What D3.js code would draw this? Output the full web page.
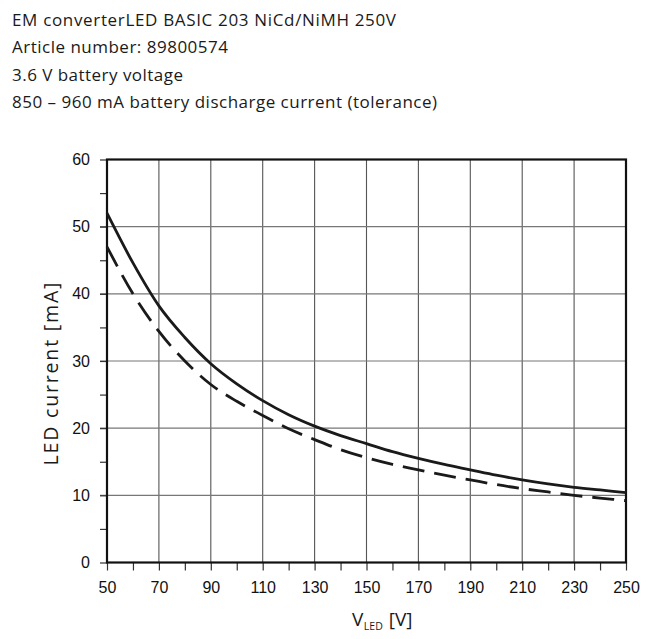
<!DOCTYPE html>
<html>
<head>
<meta charset="utf-8">
<script src="https://cdn.jsdelivr.net/npm/d3@7"></script>
<style>
  body { margin: 0; background: #fff; }
  svg { display: block; }
</style>
</head>
<body>
<svg id="chart" width="649" height="639"></svg>
<script>
// header text lines
var titleLines = [
  "EM converterLED BASIC 203 NiCd/NiMH 250V",
  "Article number: 89800574",
  "3.6 V battery voltage",
  "850 \u2013 960 mA battery discharge current (tolerance)"
];
// width each header line takes in the reference, px
var titleWidths = [384, 216, 171, 425];

// LED voltage [V]
var vLed = [50, 60, 70, 80, 90, 100, 110, 120, 130, 140, 150, 160, 170, 180, 190, 200, 210, 220, 230, 240, 250];
// LED current [mA], upper tolerance (solid)
var currentMax = [52, 44.6, 38.2, 33.5, 29.6, 26.6, 24.1, 22.0, 20.3, 18.9, 17.7, 16.5, 15.5, 14.6, 13.8, 13.0, 12.3, 11.7, 11.2, 10.8, 10.4];
// LED current [mA], lower tolerance (dashed)
var currentMin = [47, 40.0, 34.4, 30.0, 26.5, 24.0, 21.9, 19.9, 18.3, 16.8, 15.6, 14.6, 13.8, 13.0, 12.3, 11.6, 11.0, 10.5, 10.0, 9.6, 9.2];

var xTicks = [50, 70, 90, 110, 130, 150, 170, 190, 210, 230, 250];
var yTicks = [0, 10, 20, 30, 40, 50, 60];

var svg = d3.select("#chart");
var labelFont = "'Open Sans', sans-serif";
var tickFont = "'Liberation Sans', Arial, sans-serif";

// header
svg.append("g").selectAll("text")
  .data(titleLines)
  .enter().append("text")
  .attr("x", 12)
  .attr("y", function(d, i) { return 26 + i * 27.3; })
  .attr("textLength", function(d, i) { return titleWidths[i]; })
  .attr("lengthAdjust", "spacing")
  .style("font-family", labelFont)
  .style("font-size", "17px")
  .style("fill", "#1a1a1a")
  .text(function(d) { return d; });

// plot box (window.top is reserved, so use own names)
var pLeft = 107, pRight = 626, pTop = 159.5, pBottom = 562.5;

var x = d3.scaleLinear().domain([50, 250]).range([pLeft, pRight]);
var y = d3.scaleLinear().domain([0, 60]).range([pBottom, pTop]);

var g = svg.append("g");

// grid
g.append("g").selectAll("line")
  .data(xTicks.slice(1, -1))
  .enter().append("line")
  .attr("x1", function(d) { return x(d); })
  .attr("x2", function(d) { return x(d); })
  .attr("y1", pTop).attr("y2", pBottom)
  .style("stroke", "#555").style("stroke-width", 1.1);

g.append("g").selectAll("line")
  .data(yTicks.slice(1, -1))
  .enter().append("line")
  .attr("x1", pLeft - 7).attr("x2", pRight)
  .attr("y1", function(d) { return y(d); })
  .attr("y2", function(d) { return y(d); })
  .style("stroke", "#777").style("stroke-width", 1.1);

// axes with d3 axis generators
var xAxis = d3.axisBottom(x).tickValues(d3.range(50, 251, 10)).tickSize(8)
  .tickFormat(function(d) { return xTicks.indexOf(d) >= 0 ? d : ""; });
var yAxis = d3.axisLeft(y).tickValues(d3.range(0, 61, 5)).tickSize(7)
  .tickFormat(function(d) { return yTicks.indexOf(d) >= 0 ? d : ""; });

var gx = g.append("g").attr("transform", "translate(0," + pBottom + ")").call(xAxis);
var gy = g.append("g").attr("transform", "translate(" + pLeft + ",0)").call(yAxis);

[gx, gy].forEach(function(a) {
  a.select(".domain").remove();
  a.selectAll(".tick line").style("stroke", "#333").style("stroke-width", 1.2);
  a.selectAll(".tick text")
    .style("font-family", tickFont)
    .style("font-size", "16px")
    .style("fill", "#111");
});
gx.selectAll(".tick text").attr("dy", "0.71em").attr("y", 19);
gy.selectAll(".tick text").attr("x", -17);

// frame
g.append("rect")
  .attr("x", pLeft).attr("y", pTop)
  .attr("width", pRight - pLeft).attr("height", pBottom - pTop)
  .style("fill", "none").style("stroke", "#111").style("stroke-width", 2.2);

// curves
var line = d3.line().curve(d3.curveMonotoneX)
  .x(function(d) { return x(d[0]); })
  .y(function(d) { return y(d[1]); });

g.append("path")
  .datum(d3.zip(vLed, currentMin))
  .attr("d", line)
  .style("fill", "none").style("stroke", "#1a1a1a")
  .style("stroke-width", 2.8)
  .style("stroke-dasharray", "22,10");

g.append("path")
  .datum(d3.zip(vLed, currentMax))
  .attr("d", line)
  .style("fill", "none").style("stroke", "#1a1a1a")
  .style("stroke-width", 2.8);

// axis titles
svg.append("text")
  .attr("transform", "translate(58,374) rotate(-90)")
  .attr("text-anchor", "middle")
  .attr("textLength", 183)
  .attr("lengthAdjust", "spacing")
  .style("font-family", labelFont)
  .style("font-size", "19.5px")
  .style("fill", "#1a1a1a")
  .text("LED current [mA]");

var xt = svg.append("text")
  .attr("x", 352)
  .attr("y", 625.5)
  .style("font-family", labelFont)
  .style("font-size", "19px")
  .style("fill", "#1a1a1a");
xt.append("tspan").text("V");
xt.append("tspan").attr("dy", 4).attr("dx", 0.5).style("font-size", "10.5px").text("LED");
xt.append("tspan").attr("dy", -4).attr("dx", 6).text("[V]");
</script>
</body>
</html>
